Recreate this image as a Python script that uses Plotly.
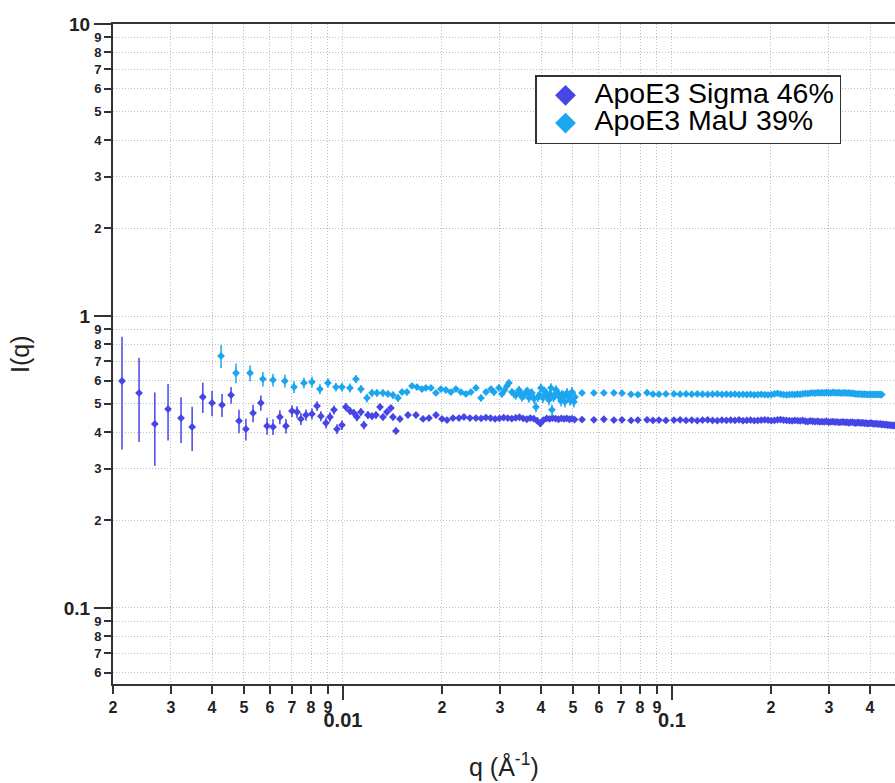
import math
import plotly.graph_objects as go

# ---------------- data ----------------
sigma_q = [
    0.00213, 0.00240, 0.00268, 0.00294, 0.00322, 0.00348, 0.00375, 0.00400, 0.00429, 0.00457,
    0.00483, 0.00507, 0.00533, 0.00563, 0.00588, 0.00613, 0.00643, 0.00671, 0.00700, 0.00725,
    0.00745, 0.00772, 0.00805, 0.00834, 0.00857, 0.00888, 0.00913, 0.00939, 0.00959, 0.00993,
    0.01021, 0.01050, 0.01080, 0.01103, 0.01134, 0.01158, 0.01191, 0.01225, 0.01260, 0.01296,
    0.01323, 0.01360, 0.01399, 0.01419, 0.01449, 0.01490,
    0.01576, 0.01667, 0.01751, 0.01826, 0.01918, 0.02000, 0.02071, 0.02160, 0.02253, 0.02333,
    0.02432, 0.02537, 0.0263, 0.0272, 0.0281, 0.0290, 0.0299, 0.0308, 0.0317, 0.0326,
    0.0335, 0.0344, 0.0353, 0.0362, 0.0371, 0.0380, 0.0389, 0.0398, 0.0407, 0.0416,
    0.0425, 0.0434, 0.0443, 0.0452, 0.0461, 0.0470, 0.0479, 0.0488, 0.0497, 0.0506,
    0.0533, 0.0579, 0.0621, 0.0666, 0.0705, 0.0751, 0.0788, 0.0840, 0.0876, 0.0913, 0.0959, 0.1014,
    0.1059, 0.1104, 0.1149, 0.1194, 0.1239, 0.1284, 0.1329, 0.1374, 0.1419, 0.1464,
    0.1509, 0.1554, 0.1599, 0.1644, 0.1689, 0.1734, 0.1779, 0.1824, 0.1869, 0.1914,
    0.1959, 0.2004, 0.2049, 0.2094, 0.2139, 0.2184, 0.2229, 0.2274, 0.2319, 0.2364,
    0.2409, 0.2454, 0.2499, 0.2544, 0.2589, 0.2634, 0.2679, 0.2724, 0.2769, 0.2814,
    0.2859, 0.2904, 0.2949, 0.2994, 0.3039, 0.3084, 0.3129, 0.3174, 0.3219, 0.3264,
    0.3309, 0.3354, 0.3399, 0.3444, 0.3489, 0.3534, 0.3579, 0.3624, 0.3669, 0.3714,
    0.3759, 0.3804, 0.3849, 0.3894, 0.3939, 0.3984, 0.4029, 0.4074, 0.4119, 0.4164,
    0.4209, 0.4254, 0.4299, 0.4344, 0.4389, 0.4434, 0.4479, 0.4524, 0.4569, 0.4614,
    0.4659, 0.4704, 0.4749,
]
sigma_I = [
    0.599, 0.545, 0.427, 0.480, 0.447, 0.417, 0.528, 0.504, 0.496, 0.536,
    0.437, 0.410, 0.465, 0.504, 0.420, 0.417, 0.451, 0.420, 0.473, 0.469,
    0.444, 0.458, 0.462, 0.492, 0.454, 0.430, 0.451, 0.477, 0.410, 0.423,
    0.488, 0.473, 0.465, 0.451, 0.469, 0.423, 0.458, 0.454, 0.458, 0.488,
    0.451, 0.469, 0.484, 0.451, 0.404, 0.444,
    0.458, 0.458, 0.444, 0.447, 0.458, 0.444, 0.440, 0.447, 0.447, 0.451,
    0.447, 0.447, 0.446, 0.449, 0.447, 0.444, 0.446, 0.449, 0.447, 0.445,
    0.448, 0.450, 0.446, 0.443, 0.447, 0.445, 0.438, 0.428, 0.440, 0.446,
    0.444, 0.447, 0.445, 0.443, 0.446, 0.444, 0.446, 0.443, 0.445, 0.442,
    0.442, 0.441, 0.443, 0.440, 0.441, 0.439, 0.440, 0.441, 0.439, 0.440, 0.439, 0.440,
    0.441, 0.439, 0.440, 0.438, 0.440, 0.441, 0.439, 0.438, 0.440, 0.439,
    0.440, 0.439, 0.441, 0.438, 0.439, 0.440, 0.438, 0.439, 0.440, 0.441,
    0.440, 0.438, 0.439, 0.441, 0.442, 0.440, 0.439, 0.438, 0.437, 0.439,
    0.438, 0.437, 0.439, 0.436, 0.435, 0.437, 0.436, 0.435, 0.436, 0.434,
    0.435, 0.434, 0.436, 0.433, 0.434, 0.435, 0.433, 0.434, 0.432, 0.433,
    0.434, 0.432, 0.433, 0.431, 0.432, 0.433, 0.431, 0.430, 0.432, 0.431,
    0.430, 0.431, 0.429, 0.430, 0.428, 0.429, 0.430, 0.428, 0.427, 0.428,
    0.427, 0.426, 0.427, 0.425, 0.426, 0.424, 0.425, 0.423, 0.424, 0.422,
    0.423, 0.421, 0.422,
]
sigma_err = [
    0.250, 0.175, 0.120, 0.105, 0.080, 0.072, 0.063, 0.050, 0.045, 0.035,
    0.040, 0.035, 0.032, 0.030, 0.028, 0.026, 0.025, 0.024, 0.022, 0.022,
    0.021, 0.020, 0.020, 0.019, 0.018, 0.018, 0.017, 0.017, 0.016, 0.016,
    0.016, 0.015, 0.015, 0.015, 0.014, 0.014, 0.014, 0.013, 0.013, 0.013,
    0.012, 0.012, 0.012, 0.012, 0.011, 0.011,
    0.008, 0.008, 0.008, 0.008, 0.008, 0.008, 0.008, 0.008, 0.007, 0.007,
    0.007, 0.007, 0.006, 0.006, 0.006, 0.006, 0.006, 0.006, 0.006, 0.006,
    0.006, 0.006, 0.006, 0.006, 0.006, 0.006, 0.006, 0.006, 0.006, 0.006,
    0.006, 0.006, 0.006, 0.006, 0.006, 0.006, 0.006, 0.006, 0.006, 0.006,
    0.004, 0.004, 0.004, 0.004, 0.004, 0.004, 0.004, 0.004, 0.004, 0.004, 0.004, 0.004,
    0.004, 0.004, 0.004, 0.004, 0.004, 0.004, 0.004, 0.004, 0.004, 0.004,
    0.004, 0.004, 0.004, 0.004, 0.004, 0.004, 0.004, 0.004, 0.004, 0.004,
    0.004, 0.004, 0.004, 0.004, 0.004, 0.004, 0.004, 0.004, 0.004, 0.004,
    0.004, 0.004, 0.004, 0.004, 0.004, 0.004, 0.004, 0.004, 0.004, 0.004,
    0.004, 0.004, 0.004, 0.004, 0.004, 0.004, 0.004, 0.004, 0.004, 0.004,
    0.004, 0.004, 0.004, 0.004, 0.004, 0.004, 0.004, 0.004, 0.004, 0.004,
    0.004, 0.004, 0.004, 0.004, 0.004, 0.004, 0.004, 0.004, 0.004, 0.004,
    0.004, 0.004, 0.004, 0.004, 0.004, 0.004, 0.004, 0.004, 0.004, 0.004,
    0.004, 0.004, 0.004,
]

mau_q = [
    0.00426, 0.00473, 0.00522, 0.00571, 0.00613, 0.00666, 0.00710, 0.00761, 0.00805, 0.00851,
    0.00900, 0.00952, 0.00993, 0.01050, 0.01095, 0.01134, 0.01183, 0.01225, 0.01268, 0.01323,
    0.01370, 0.01419, 0.01470, 0.01512, 0.01565, 0.01621, 0.01679, 0.01738, 0.01787, 0.01851,
    0.01917, 0.01985, 0.02055, 0.02129, 0.02204, 0.02283, 0.02364, 0.02448,
    0.02537, 0.02628, 0.02721, 0.02818, 0.02877, 0.02979, 0.03042, 0.03095, 0.03151, 0.03195,
    0.03263, 0.03310, 0.03356, 0.03428, 0.03465, 0.03501, 0.03550, 0.03600, 0.03640, 0.03676,
    0.03715, 0.03754, 0.03810, 0.03860, 0.03914, 0.03955, 0.03997, 0.04053, 0.04095, 0.04140,
    0.04185, 0.04228, 0.04258, 0.04288, 0.04318, 0.04365, 0.04410, 0.04440, 0.04472, 0.04520,
    0.04567, 0.04600, 0.04631, 0.04680, 0.04729, 0.04796, 0.04850, 0.04898, 0.04930, 0.04966,
    0.05036, 0.05072,
    0.0533, 0.0579, 0.0621, 0.0666, 0.0705, 0.0751, 0.0788, 0.0840, 0.0876, 0.0913, 0.0959, 0.1014,
    0.1059, 0.1104, 0.1149, 0.1194, 0.1239, 0.1284, 0.1329, 0.1374, 0.1419, 0.1464,
    0.1509, 0.1554, 0.1599, 0.1644, 0.1689, 0.1734, 0.1779, 0.1824, 0.1869, 0.1914,
    0.1959, 0.2004, 0.2049, 0.2094, 0.2139, 0.2184, 0.2229, 0.2274, 0.2319, 0.2364,
    0.2409, 0.2454, 0.2499, 0.2544, 0.2589, 0.2634, 0.2679, 0.2724, 0.2769, 0.2814,
    0.2859, 0.2904, 0.2949, 0.2994, 0.3039, 0.3084, 0.3129, 0.3174, 0.3219, 0.3264,
    0.3309, 0.3354, 0.3399, 0.3444, 0.3489, 0.3534, 0.3579, 0.3624, 0.3669, 0.3714,
    0.3759, 0.3804, 0.3849, 0.3894, 0.3939, 0.3984, 0.4029, 0.4074, 0.4119, 0.4164,
    0.4209, 0.4254, 0.4299, 0.4344,
]
mau_I = [
    0.730, 0.638, 0.638, 0.608, 0.604, 0.599, 0.571, 0.590, 0.594, 0.562,
    0.590, 0.571, 0.571, 0.567, 0.608, 0.562, 0.524, 0.545, 0.545, 0.545,
    0.541, 0.536, 0.524, 0.549, 0.549, 0.576, 0.571, 0.562, 0.567, 0.567,
    0.545, 0.562, 0.558, 0.549, 0.562, 0.549, 0.541, 0.549,
    0.567, 0.524, 0.549, 0.562, 0.549, 0.567, 0.541, 0.556, 0.576, 0.590,
    0.549, 0.541, 0.536, 0.558, 0.545, 0.528, 0.536, 0.549, 0.553, 0.524,
    0.541, 0.545, 0.520, 0.488, 0.528, 0.536, 0.567, 0.524, 0.553, 0.545,
    0.532, 0.516, 0.541, 0.567, 0.477, 0.528, 0.536, 0.558, 0.549, 0.541,
    0.524, 0.512, 0.536, 0.532, 0.508, 0.545, 0.528, 0.516, 0.520, 0.549,
    0.508, 0.528,
    0.545, 0.545, 0.545, 0.545, 0.544, 0.539, 0.538, 0.546, 0.540, 0.540, 0.541, 0.541,
    0.540, 0.541, 0.540, 0.541, 0.540, 0.539, 0.540, 0.541, 0.539, 0.540,
    0.539, 0.540, 0.538, 0.539, 0.538, 0.539, 0.537, 0.538, 0.539, 0.538,
    0.537, 0.538, 0.541, 0.543, 0.540, 0.538, 0.537, 0.538, 0.539, 0.538,
    0.540, 0.539, 0.541, 0.543, 0.542, 0.544, 0.545, 0.544, 0.546, 0.545,
    0.546, 0.545, 0.547, 0.546, 0.545, 0.547, 0.546, 0.545, 0.546, 0.544,
    0.545, 0.546, 0.544, 0.545, 0.543, 0.544, 0.542, 0.541, 0.540, 0.541,
    0.540, 0.539, 0.540, 0.539, 0.538, 0.539, 0.538, 0.539, 0.538, 0.539,
    0.538, 0.539, 0.538, 0.538,
]
mau_err = [
    0.066, 0.050, 0.040, 0.035, 0.030, 0.030, 0.027, 0.025, 0.025, 0.022,
    0.022, 0.020, 0.020, 0.020, 0.020, 0.018, 0.018, 0.017, 0.016, 0.016,
    0.015, 0.015, 0.015, 0.014, 0.014, 0.014, 0.013, 0.013, 0.013, 0.013,
    0.012, 0.012, 0.012, 0.012, 0.012, 0.012, 0.012, 0.012,
    0.013, 0.014, 0.014, 0.015, 0.015, 0.016, 0.016, 0.016, 0.017, 0.017,
    0.017, 0.018, 0.018, 0.018, 0.018, 0.019, 0.019, 0.019, 0.019, 0.019,
    0.020, 0.020, 0.020, 0.020, 0.020, 0.020, 0.020, 0.020, 0.020, 0.020,
    0.021, 0.021, 0.021, 0.021, 0.021, 0.021, 0.021, 0.021, 0.021, 0.021,
    0.022, 0.022, 0.022, 0.022, 0.022, 0.022, 0.022, 0.022, 0.022, 0.022,
    0.022, 0.022,
    0.004, 0.004, 0.004, 0.004, 0.004, 0.004, 0.004, 0.004, 0.004, 0.004, 0.004, 0.004,
    0.004, 0.004, 0.004, 0.004, 0.004, 0.004, 0.004, 0.004, 0.004, 0.004,
    0.004, 0.004, 0.004, 0.004, 0.004, 0.004, 0.004, 0.004, 0.004, 0.004,
    0.004, 0.004, 0.004, 0.004, 0.004, 0.004, 0.004, 0.004, 0.004, 0.004,
    0.004, 0.004, 0.004, 0.004, 0.004, 0.004, 0.004, 0.004, 0.004, 0.004,
    0.004, 0.004, 0.004, 0.004, 0.004, 0.004, 0.004, 0.004, 0.004, 0.004,
    0.004, 0.004, 0.004, 0.004, 0.004, 0.004, 0.004, 0.004, 0.004, 0.004,
    0.004, 0.004, 0.004, 0.004, 0.004, 0.004, 0.004, 0.004, 0.004, 0.004,
    0.004, 0.004, 0.004, 0.004,
]

series_names = ["ApoE3 Sigma 46%", "ApoE3 MaU 39%"]

# tick labels
x_minor_vals = [0.002, 0.003, 0.004, 0.005, 0.006, 0.007, 0.008, 0.009,
                0.02, 0.03, 0.04, 0.05, 0.06, 0.07, 0.08, 0.09,
                0.2, 0.3, 0.4]
x_minor_text = ["2", "3", "4", "5", "6", "7", "8", "9",
                "2", "3", "4", "5", "6", "7", "8", "9",
                "2", "3", "4"]
x_major_vals = [0.01, 0.1]
x_major_text = ["0.01", "0.1"]

y_minor_vals = [0.06, 0.07, 0.08, 0.09,
                0.2, 0.3, 0.4, 0.5, 0.6, 0.7, 0.8, 0.9,
                2, 3, 4, 5, 6, 7, 8, 9]
y_minor_text = ["6", "7", "8", "9",
                "2", "3", "4", "5", "6", "7", "8", "9",
                "2", "3", "4", "5", "6", "7", "8", "9"]
y_major_vals = [0.1, 1, 10]
y_major_text = ["0.1", "1", "10"]

# ---------------- styling ----------------
SIGMA_COLOR = "#4646E6"
MAU_COLOR = "#1CA6EF"
FONT = "Liberation Sans"
AXIS_COLOR = "#333333"
GRID_COLOR = "#BDBDBD"
GRID_DASH = "1px,2px"

X_RANGE = [math.log10(0.002), -0.322]
Y_RANGE = [-1.2603, 1.0]

fig = go.Figure()

for q, I, err, color in [(sigma_q, sigma_I, sigma_err, SIGMA_COLOR),
                         (mau_q, mau_I, mau_err, MAU_COLOR)]:
    fig.add_trace(go.Scatter(
        x=q, y=I, mode="markers", showlegend=False,
        marker=dict(symbol="diamond", size=6, color=color),
        error_y=dict(type="data", array=err, visible=True, thickness=1.5,
                     width=0, color=color),
    ))

# legend entries (bigger symbols than the data markers)
for name, color in zip(series_names, [SIGMA_COLOR, MAU_COLOR]):
    fig.add_trace(go.Scatter(
        x=[None], y=[None], mode="markers",
        name=f"<span style='font-size:28.5px'>{name}</span>",
        marker=dict(symbol="diamond", size=16, color=color),
    ))

# empty trace so the overlaid major-tick axes are drawn
fig.add_trace(go.Scatter(x=[], y=[], xaxis="x2", yaxis="y2", mode="markers",
                         showlegend=False, hoverinfo="skip"))

fig.update_layout(
    width=895, height=783,
    margin=dict(l=113, r=0, t=24, b=99),
    paper_bgcolor="white", plot_bgcolor="white",
    xaxis=dict(
        type="log", range=X_RANGE,
        tickmode="array", tickvals=x_minor_vals, ticktext=x_minor_text,
        ticks="outside", ticklen=8, tickwidth=1.5, tickcolor=AXIS_COLOR,
        tickfont=dict(family=FONT, size=16, color="#222", weight="bold"),
        showline=True, linecolor=AXIS_COLOR, linewidth=2, mirror=True,
        showgrid=True, gridcolor=GRID_COLOR, griddash=GRID_DASH, gridwidth=1,
        zeroline=False,
    ),
    xaxis2=dict(
        type="log", range=X_RANGE, overlaying="x", anchor="y2", side="bottom",
        tickmode="array", tickvals=x_major_vals, ticktext=x_major_text,
        ticks="outside", ticklen=15, tickwidth=1.5, tickcolor=AXIS_COLOR,
        ticklabelstandoff=3,
        tickfont=dict(family=FONT, size=20, color="#222", weight="bold"),
        showgrid=True, gridcolor=GRID_COLOR, griddash=GRID_DASH, gridwidth=1,
        showline=False, zeroline=False,
    ),
    yaxis=dict(
        type="log", range=Y_RANGE,
        tickmode="array", tickvals=y_minor_vals, ticktext=y_minor_text,
        ticks="outside", ticklen=7, tickwidth=1.5, tickcolor=AXIS_COLOR,
        tickfont=dict(family=FONT, size=13, color="#222", weight="bold"),
        showline=True, linecolor=AXIS_COLOR, linewidth=2,
        showgrid=True, gridcolor=GRID_COLOR, griddash=GRID_DASH, gridwidth=1,
        zeroline=False,
    ),
    yaxis2=dict(
        type="log", range=Y_RANGE, overlaying="y", anchor="x2", side="left",
        tickmode="array", tickvals=y_major_vals, ticktext=y_major_text,
        ticks="outside", ticklen=18, tickwidth=1.5, tickcolor=AXIS_COLOR,
        tickfont=dict(family=FONT, size=19, color="#222", weight="bold"),
        showgrid=True, gridcolor=GRID_COLOR, griddash=GRID_DASH, gridwidth=1,
        showline=False, zeroline=False,
    ),
    legend=dict(
        x=(535 - 113) / 782, y=1 - (75 - 24) / 660, xanchor="left", yanchor="top",
        bgcolor="white", bordercolor=AXIS_COLOR, borderwidth=1.5,
        font=dict(family=FONT, size=19, color="black"), itemwidth=48,
    ),
    annotations=[
        dict(text="q (Å<sup>-1</sup>)", xref="paper", yref="paper",
             x=0.5, y=-(765 - 684) / 660, xanchor="center", yanchor="middle",
             showarrow=False, font=dict(family=FONT, size=25, color="#222")),
        dict(text="I(q)", xref="paper", yref="paper",
             x=-(113 - 20) / 782, y=0.5, xanchor="center", yanchor="middle",
             textangle=-90, showarrow=False,
             font=dict(family=FONT, size=25, color="#222")),
    ],
)

fig.write_html("out.html")
